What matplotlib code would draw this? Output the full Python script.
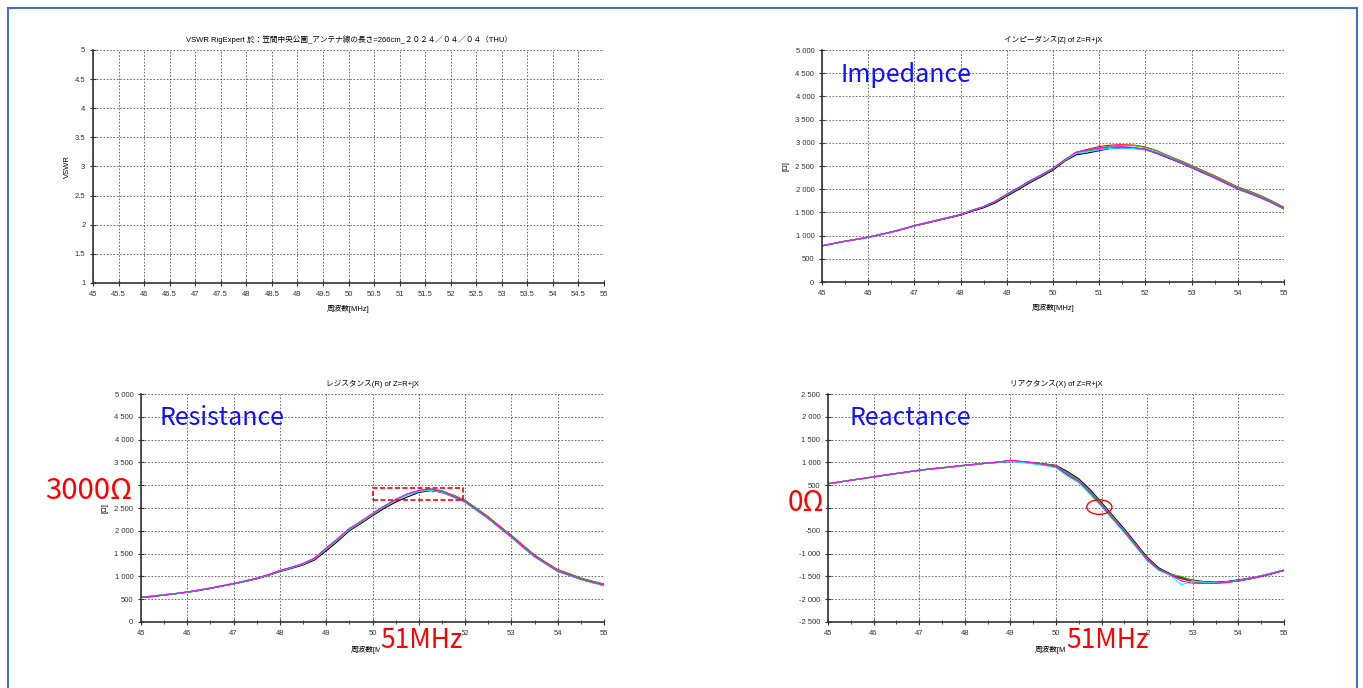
import matplotlib
matplotlib.use('Agg')
import matplotlib.pyplot as plt
from matplotlib.patches import Rectangle, Ellipse
from matplotlib.ticker import MultipleLocator, FuncFormatter

plt.rcParams['font.family'] = ['Liberation Sans', 'Noto Sans CJK JP']
plt.rcParams['font.size'] = 5.5

# frequency points [MHz]
freq = [45.0, 45.25, 45.5, 45.75, 46.0, 46.25, 46.5, 46.75, 47.0, 47.25, 47.5,
        47.75, 48.0, 48.25, 48.5, 48.75, 49.0, 49.25, 49.5, 49.75, 50.0,
        50.25, 50.5, 50.75, 51.0, 51.25, 51.5, 51.75, 52.0, 52.25, 52.5,
        52.75, 53.0, 53.25, 53.5, 53.75, 54.0, 54.25, 54.5, 54.75, 55.0]

trace_colors = ['#000000', '#0000ff', '#ff0000', '#00e000', '#00ffff', '#ff00ff']

# |Z| per trace
z_black = [780, 828, 878, 918, 962, 1015, 1070, 1135, 1205, 1262, 1322, 1382, 1440, 1525, 1600, 1705, 1850, 1990, 2140, 2270, 2410,
           2600, 2740, 2780, 2830, 2880, 2900, 2890, 2860, 2785, 2690, 2590, 2480, 2370, 2260, 2140, 2020, 1930, 1830, 1710, 1580]
z_blue = [778, 828, 878, 920, 965, 1022, 1078, 1145, 1215, 1275, 1335, 1395, 1455, 1545, 1625, 1740, 1890, 2030, 2180, 2310, 2450,
          2625, 2760, 2820, 2850, 2880, 2890, 2880, 2850, 2770, 2670, 2570, 2460, 2350, 2240, 2120, 2000, 1910, 1810, 1700, 1570]
z_red = [782, 832, 882, 922, 968, 1022, 1078, 1142, 1212, 1272, 1332, 1392, 1452, 1540, 1620, 1730, 1880, 2020, 2170, 2300, 2440,
         2620, 2790, 2860, 2920, 2950, 2960, 2950, 2910, 2830, 2720, 2620, 2510, 2400, 2290, 2170, 2050, 1960, 1860, 1740, 1610]
z_green = [780, 830, 880, 920, 965, 1020, 1075, 1140, 1210, 1270, 1330, 1390, 1450, 1540, 1620, 1730, 1875, 2015, 2165, 2295, 2435,
           2615, 2770, 2840, 2890, 2930, 2950, 2940, 2900, 2820, 2715, 2610, 2500, 2390, 2280, 2160, 2040, 1950, 1850, 1730, 1600]
z_cyan = [780, 830, 880, 920, 965, 1020, 1075, 1140, 1212, 1272, 1335, 1395, 1455, 1545, 1630, 1745, 1895, 2035, 2180, 2310, 2450,
          2630, 2770, 2810, 2850, 2880, 2890, 2875, 2850, 2790, 2690, 2580, 2470, 2360, 2250, 2130, 2010, 1920, 1820, 1700, 1575]
z_magenta = [780, 830, 880, 920, 965, 1022, 1078, 1145, 1215, 1275, 1335, 1395, 1455, 1545, 1625, 1740, 1890, 2030, 2180, 2310, 2450,
             2635, 2800, 2850, 2880, 2910, 2920, 2900, 2860, 2780, 2680, 2580, 2470, 2360, 2250, 2130, 2010, 1920, 1820, 1705, 1580]

# R per trace
r_black = [545, 560, 590, 625, 650, 690, 735, 785, 835, 890, 945, 1020, 1105, 1175, 1250, 1360, 1560, 1770, 2000, 2160, 2330,
           2490, 2630, 2740, 2840, 2880, 2850, 2770, 2660, 2480, 2300, 2090, 1890, 1670, 1460, 1300, 1140, 1050, 955, 885, 825]
r_blue = [535, 560, 595, 620, 655, 700, 745, 790, 845, 900, 960, 1035, 1125, 1195, 1280, 1400, 1615, 1825, 2045, 2200, 2370,
          2530, 2670, 2800, 2865, 2890, 2840, 2740, 2630, 2450, 2270, 2060, 1860, 1640, 1430, 1270, 1110, 1025, 935, 865, 800]
r_red = [540, 570, 600, 620, 660, 695, 740, 795, 840, 895, 955, 1030, 1120, 1190, 1270, 1385, 1595, 1805, 2025, 2185, 2355,
         2515, 2660, 2790, 2870, 2910, 2875, 2780, 2670, 2490, 2310, 2100, 1900, 1685, 1470, 1305, 1150, 1060, 965, 895, 835]
r_green = [540, 565, 590, 615, 650, 690, 740, 790, 835, 890, 950, 1025, 1115, 1185, 1265, 1385, 1595, 1800, 2020, 2185, 2355,
           2520, 2665, 2795, 2880, 2915, 2880, 2770, 2660, 2485, 2300, 2085, 1885, 1670, 1460, 1295, 1140, 1050, 960, 890, 830]
r_cyan = [545, 570, 600, 625, 660, 700, 745, 795, 845, 900, 960, 1035, 1125, 1195, 1275, 1395, 1610, 1820, 2040, 2200, 2370,
          2530, 2665, 2790, 2860, 2890, 2845, 2740, 2620, 2440, 2265, 2060, 1860, 1640, 1430, 1270, 1115, 1020, 935, 860, 795]
r_magenta = [540, 565, 595, 625, 660, 700, 745, 795, 845, 900, 960, 1040, 1130, 1200, 1280, 1400, 1620, 1830, 2050, 2210, 2380,
             2540, 2690, 2810, 2885, 2920, 2860, 2750, 2640, 2460, 2275, 2070, 1870, 1650, 1440, 1280, 1120, 1030, 940, 870, 810]

# X per trace
x_black = [530, 568, 606, 643, 680, 718, 754, 790, 825, 853, 878, 905, 932, 958, 983, 1003, 1020, 1015, 995, 965, 935,
           800, 640, 400, 120, -170, -460, -770, -1080, -1310, -1440, -1525, -1580, -1615, -1625, -1610, -1575, -1535, -1485, -1425, -1365]
x_blue = [532, 570, 610, 647, 685, 722, 758, 794, 829, 857, 882, 910, 938, 962, 987, 1010, 1040, 1005, 975, 940, 900,
          720, 560, 310, 40, -250, -530, -840, -1145, -1355, -1465, -1550, -1615, -1640, -1645, -1630, -1595, -1550, -1495, -1435, -1365]
x_red = [534, 572, 610, 646, 684, 722, 758, 794, 830, 858, 884, 912, 938, 962, 986, 1006, 1030, 1020, 995, 965, 930,
         760, 605, 355, 85, -205, -490, -800, -1105, -1330, -1450, -1545, -1610, -1640, -1645, -1630, -1600, -1560, -1505, -1440, -1370]
x_green = [532, 570, 608, 645, 683, 720, 756, 792, 827, 855, 880, 908, 935, 960, 985, 1005, 1020, 1015, 990, 960, 925,
           760, 610, 360, 90, -200, -490, -800, -1110, -1335, -1455, -1500, -1595, -1625, -1640, -1625, -1595, -1550, -1490, -1425, -1360]
x_cyan = [532, 570, 608, 645, 683, 720, 756, 792, 827, 855, 880, 908, 935, 960, 985, 1005, 1025, 1000, 970, 935, 880,
          700, 560, 300, 30, -260, -545, -850, -1160, -1370, -1475, -1680, -1605, -1630, -1640, -1620, -1585, -1540, -1480, -1420, -1355]
x_magenta = [533, 571, 609, 646, 684, 721, 757, 793, 828, 856, 881, 909, 936, 961, 986, 1008, 1050, 1020, 990, 955, 910,
             735, 585, 330, 60, -230, -515, -825, -1130, -1345, -1460, -1600, -1650, -1655, -1650, -1630, -1595, -1545, -1490, -1430, -1360]

z_traces = [z_black, z_blue, z_red, z_green, z_cyan, z_magenta]
r_traces = [r_black, r_blue, r_red, r_green, r_cyan, r_magenta]
x_traces = [x_black, x_blue, x_red, x_green, x_cyan, x_magenta]

title_vswr = 'VSWR RigExpert 於：笠間中央公園_アンテナ線の長さ=266cm_２０２４／０４／０４（THU）'
title_z = 'インピーダンス|Z| of Z=R+jX'
title_r = 'レジスタンス(R) of Z=R+jX'
title_x = 'リアクタンス(X) of Z=R+jX'
xlabel = '周波数[MHz]'

W, H = 1363, 688
fig = plt.figure(figsize=(W / 100, H / 100), dpi=100)
fig.patch.set_facecolor('white')


def px_axes(l, t, r, b):
    return fig.add_axes([l / W, 1 - b / H, (r - l) / W, (b - t) / H])


def thousands(v, pos):
    return f'{int(round(v)):,}'.replace(',', ' ')


def style(ax, ymin, ymax, ystep, xstep, minor=None):
    ax.set_xlim(45, 55)
    ax.set_ylim(ymin, ymax)
    ax.xaxis.set_major_locator(MultipleLocator(xstep))
    ax.yaxis.set_major_locator(MultipleLocator(ystep))
    if minor:
        ax.xaxis.set_minor_locator(MultipleLocator(minor))
    for s in ('top', 'right'):
        ax.spines[s].set_visible(False)
    for s in ('left', 'bottom'):
        ax.spines[s].set_linewidth(1.2)
        ax.spines[s].set_color('#333333')
    ax.grid(True, which='major', linestyle=(0, (2, 2)), color='#555555', linewidth=0.6)
    ax.tick_params(which='major', direction='inout', length=5, width=0.8,
                   labelsize=5.5, pad=3, colors='#333333')
    ax.tick_params(which='minor', direction='inout', length=3, width=0.6, colors='#333333')


# VSWR (empty)
ax1 = px_axes(93, 50, 604, 283)
style(ax1, 1, 5, 0.5, 0.5)
ax1.xaxis.set_major_formatter(FuncFormatter(lambda v, p: f'{v:g}'))
ax1.yaxis.set_major_formatter(FuncFormatter(lambda v, p: f'{v:g}'))
ax1.set_title(title_vswr, fontsize=5.5, pad=6)
ax1.set_xlabel(xlabel, fontsize=5.5, labelpad=5)
ax1.set_ylabel('VSWR', fontsize=5.5, labelpad=3)

# Impedance
ax2 = px_axes(822, 50, 1284, 282)
style(ax2, 0, 5000, 500, 1, 0.5)
ax2.yaxis.set_major_formatter(FuncFormatter(thousands))
for ys, c in zip(z_traces, trace_colors):
    ax2.plot(freq, ys, color=c, linewidth=0.8)
ax2.set_title(title_z, fontsize=5.5, pad=6)
ax2.set_xlabel(xlabel, fontsize=5.5, labelpad=5)
ax2.set_ylabel('[Ω]', fontsize=5.5, labelpad=4)

# Resistance
ax3 = px_axes(141, 394, 604, 622)
style(ax3, 0, 5000, 500, 1, 0.5)
ax3.yaxis.set_major_formatter(FuncFormatter(thousands))
for ys, c in zip(r_traces, trace_colors):
    ax3.plot(freq, ys, color=c, linewidth=0.8)
ax3.set_title(title_r, fontsize=5.5, pad=6)
ax3.set_xlabel(xlabel, fontsize=5.5, labelpad=7)
ax3.set_ylabel('[Ω]', fontsize=5.5, labelpad=4)
ax3.add_patch(Rectangle((50.0, 2670), 1.95, 270, fill=False, edgecolor='red',
                        linestyle=(0, (3, 1.5)), linewidth=1.2, zorder=5))

# Reactance
ax4 = px_axes(828, 394, 1284, 622)
style(ax4, -2500, 2500, 500, 1, 0.5)
ax4.yaxis.set_major_formatter(FuncFormatter(thousands))
for ys, c in zip(x_traces, trace_colors):
    ax4.plot(freq, ys, color=c, linewidth=0.8)
ax4.set_title(title_x, fontsize=5.5, pad=6)
ax4.set_xlabel(xlabel, fontsize=5.5, labelpad=7)
ax4.add_patch(Ellipse((50.95, 20), 0.55, 320, fill=False, edgecolor='red',
                      linewidth=1.0, zorder=5))

# slide annotations
blue = '#1010ff'
big = ['Noto Sans CJK JP']
fig.text(840 / W, 1 - 75 / H, 'Impedance', color=blue, fontsize=18, family=big, va='center')
fig.text(160 / W, 1 - 418 / H, 'Resistance', color=blue, fontsize=18, family=big, va='center')
fig.text(850 / W, 1 - 418 / H, 'Reactance', color=blue, fontsize=18, family=big, va='center')


def red_label(x, y, s, w, h, size):
    # white patch hides whatever of the chart lies under the label
    fig.add_artist(Rectangle((x / W, 1 - (y + h / 2) / H), w / W, h / H,
                             transform=fig.transFigure, facecolor='white',
                             edgecolor='none', zorder=4))
    fig.text(x / W, 1 - y / H, s, color='red', fontsize=size, family=big,
             va='center', zorder=5)


red_label(45, 491, '3000Ω', 93, 24, 21)
red_label(788, 503, '0Ω', 38, 22, 20)
red_label(380, 641, '51MHz', 82, 26, 19)
red_label(1066, 641, '51MHz', 80, 26, 19)

# slide frame
fig.add_artist(Rectangle((8 / W, -0.05), (1357 - 8) / W, 1.05 - 8 / H, transform=fig.transFigure,
                         fill=False, edgecolor='#4472c4', linewidth=1.5))

fig.savefig('out.png', dpi=100)
